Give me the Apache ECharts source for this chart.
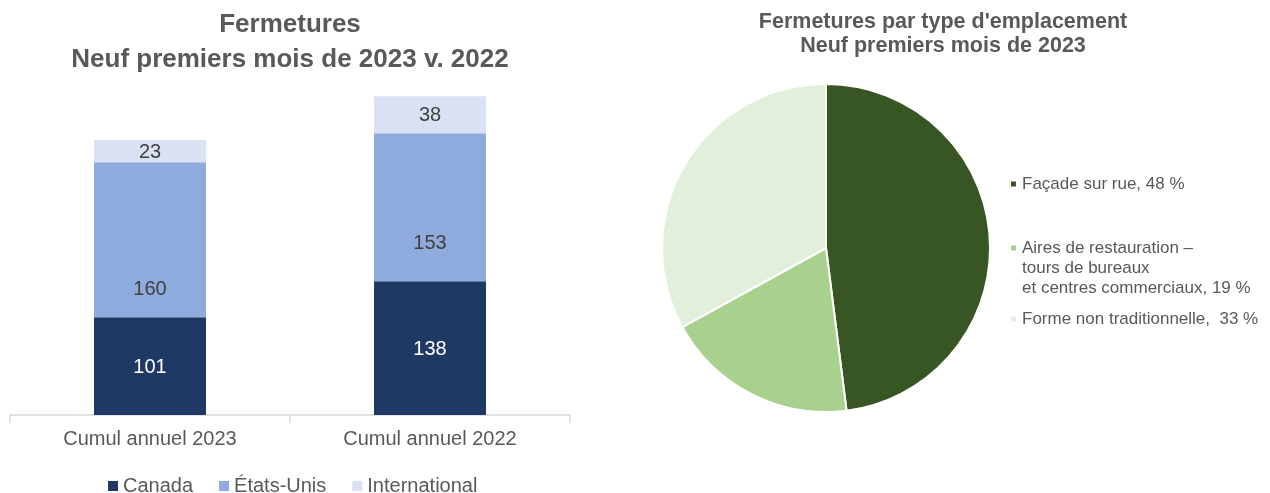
<!DOCTYPE html>
<html>
<head>
<meta charset="utf-8">
<script src="https://cdn.jsdelivr.net/npm/echarts@6/dist/echarts.min.js"></script>
<style>
html,body{margin:0;padding:0;background:#fff;}
#main{width:1270px;height:493px;}
</style>
</head>
<body>
<div id="main"></div>
<script>
const categories = ['Cumul annuel 2023', 'Cumul annuel 2022'];
const canada = [101, 138];
const etatsUnis = [160, 153];
const international = [23, 38];
const pieNames = ['Façade sur rue', 'Aires de restauration – tours de bureaux et centres commerciaux', 'Forme non traditionnelle'];
const pieValues = [48, 19, 33];

const FONT = '"Liberation Sans", Arial, sans-serif';
const GREY = '#595959';
const pieColors = ['#375623', '#a9d18e', '#e2efda'];
const usLabelOffsets = [[0, 50], [0, 36]];

const chart = echarts.init(document.getElementById('main'));
chart.setOption({
  backgroundColor: '#ffffff',
  animation: false,
  textStyle: { fontFamily: FONT },
  title: [
    {
      text: 'Fermetures\nNeuf premiers mois de 2023 v. 2022',
      left: 285, top: 2, textAlign: 'center',
      textStyle: { fontFamily: FONT, fontSize: 26, fontWeight: 'bold', color: GREY, lineHeight: 35 }
    },
    {
      text: "Fermetures par type d'emplacement\nNeuf premiers mois de 2023",
      left: 938, top: 5, textAlign: 'center',
      textStyle: { fontFamily: FONT, fontSize: 21.5, fontWeight: 'bold', color: GREY, lineHeight: 24 }
    }
  ],
  legend: [
    {
      data: ['Canada', 'États-Unis', 'International'],
      left: 103, top: 471,
      itemWidth: 10, itemHeight: 10, itemGap: 26, icon: 'rect',
      textStyle: { fontFamily: FONT, fontSize: 20, color: GREY }
    },
    {
      data: [pieNames[0]],
      left: 1004, top: 169,
      itemWidth: 7, itemHeight: 7, icon: 'rect', itemGap: 0,
      formatter: () => 'Façade sur rue, 48 %',
      textStyle: { fontFamily: FONT, fontSize: 17, color: GREY, lineHeight: 20 }
    },
    {
      data: [pieNames[1]],
      left: 1004, top: 193,
      itemWidth: 7, itemHeight: 7, icon: 'rect', itemGap: 0,
      formatter: () => ' \n \nAires de restauration –\ntours de bureaux\net centres commerciaux, 19 %',
      textStyle: { fontFamily: FONT, fontSize: 17, color: GREY, lineHeight: 20 }
    },
    {
      data: [pieNames[2]],
      left: 1004, top: 304,
      itemWidth: 7, itemHeight: 7, icon: 'rect', itemGap: 0,
      formatter: () => 'Forme non traditionnelle,  33 %',
      textStyle: { fontFamily: FONT, fontSize: 17, color: GREY, lineHeight: 20 }
    }
  ],
  grid: { left: 10, right: 700, top: 76, bottom: 78 },
  xAxis: {
    type: 'category',
    data: categories,
    axisLine: { lineStyle: { color: '#d9d9d9', width: 1.5 } },
    axisTick: { show: true, length: 8, lineStyle: { color: '#d9d9d9', width: 1.5 } },
    axisLabel: { fontFamily: FONT, fontSize: 20, color: GREY, margin: 14 }
  },
  yAxis: {
    type: 'value', min: 0, max: 350, show: false, splitLine: { show: false }
  },
  series: [
    {
      name: 'Canada', type: 'bar', stack: 't', data: canada, barWidth: 112,
      itemStyle: { color: '#203864' },
      label: { show: true, position: 'inside', color: '#ffffff', fontSize: 20, fontFamily: FONT, offset: [0, 1] }
    },
    {
      name: 'États-Unis', type: 'bar', stack: 't', barWidth: 112,
      data: etatsUnis.map((v, i) => ({ value: v, label: { offset: usLabelOffsets[i] } })),
      itemStyle: { color: '#8faadc' },
      label: { show: true, position: 'inside', color: '#404040', fontSize: 20, fontFamily: FONT }
    },
    {
      name: 'International', type: 'bar', stack: 't', data: international, barWidth: 112,
      itemStyle: { color: '#d9e1f2' },
      label: { show: true, position: 'inside', color: '#404040', fontSize: 20, fontFamily: FONT, offset: [0, 1] }
    },
    {
      type: 'pie',
      center: [826, 248],
      radius: 164,
      startAngle: 90,
      clockwise: true,
      label: { show: false },
      labelLine: { show: false },
      emphasis: { disabled: true },
      itemStyle: { borderColor: '#ffffff', borderWidth: 2 },
      data: pieNames.map((n, i) => ({ name: n, value: pieValues[i], itemStyle: { color: pieColors[i] } }))
    }
  ]
});
</script>
</body>
</html>
